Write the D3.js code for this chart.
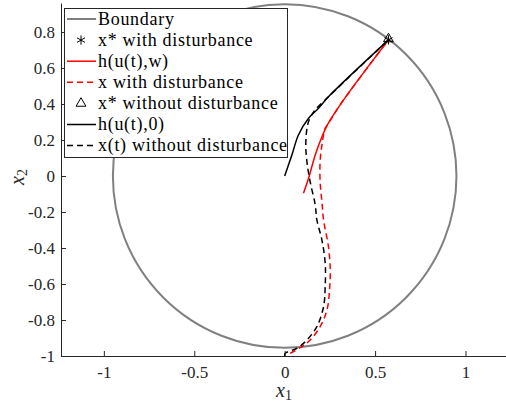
<!DOCTYPE html>
<meta charset="utf-8">
<body style="margin:0;background:#fff">
<script src="https://d3js.org/d3.v7.min.js"></script>
<script>
// equilibrium point (same for both cases)
var xStar = [0.574, 0.756];
var boundaryRadius = 0.95;

// h(u(t),w)
var hw_x = [0.104, 0.132, 0.169, 0.205, 0.234, 0.317, 0.574];
var hw_y = [-0.096, -0.013, 0.117, 0.215, 0.280, 0.410, 0.756];

// x with disturbance
var xw_x = [0.030, 0.095, 0.141, 0.196, 0.234, 0.248, 0.252, 0.242, 0.215, 0.206, 0.196, 0.196, 0.206, 0.224, 0.234, 0.317, 0.574];
var xw_y = [-0.985, -0.948, -0.911, -0.837, -0.744, -0.633, -0.522, -0.393, -0.244, -0.143, -0.032, 0.079, 0.172, 0.265, 0.280, 0.410, 0.756];

// h(u(t),0)
var h0_x = [0.000, 0.040, 0.076, 0.132, 0.187, 0.242, 0.574];
var h0_y = [0.000, 0.117, 0.228, 0.321, 0.376, 0.440, 0.756];

// x(t) without disturbance
var x0_x = [0.000, 0.003, 0.068, 0.123, 0.178, 0.215, 0.224, 0.224, 0.206, 0.178, 0.169, 0.141, 0.123, 0.117, 0.132, 0.169, 0.242, 0.574];
var x0_y = [-1.000, -0.985, -0.957, -0.911, -0.837, -0.726, -0.615, -0.485, -0.356, -0.244, -0.161, -0.032, 0.079, 0.191, 0.302, 0.367, 0.440, 0.756];

var xTicks = [-1, -0.5, 0, 0.5, 1];
var yTicks = [-1, -0.8, -0.6, -0.4, -0.2, 0, 0.2, 0.4, 0.6, 0.8];

var legendLabels = ["Boundary", "x* with disturbance", "h(u(t),w)", "x with disturbance",
                    "x* without disturbance", "h(u(t),0)", "x(t) without disturbance"];

var width = 506, height = 404;
var plot = {left: 61, right: 506, top: 3, bottom: 356};
var serif = "Liberation Serif";
var ink = "#262626";

var x = d3.scaleLinear().domain([-1.237, 1.224]).range([plot.left, plot.right]);
var y = d3.scaleLinear().domain([-1, 0.961]).range([plot.bottom, plot.top]);

var svg = d3.select("body").append("svg")
    .attr("width", width)
    .attr("height", height);

function zip(xs, ys) { return xs.map(function(v, i) { return [v, ys[i]]; }); }

var line = d3.line()
    .x(function(d) { return x(d[0]); })
    .y(function(d) { return y(d[1]); })
    .curve(d3.curveCatmullRom.alpha(0.5));

var g = svg.append("g");

// boundary
g.append("circle")
    .attr("cx", x(0))
    .attr("cy", y(0))
    .attr("r", x(boundaryRadius) - x(0))
    .attr("fill", "none")
    .attr("stroke", "#808080")
    .attr("stroke-width", 2);

var star = d3.symbol().type(d3.symbolAsterisk).size(60);
var tri = d3.symbol().type(d3.symbolTriangle).size(42);

g.append("path")
    .attr("d", star())
    .attr("transform", "translate(" + x(xStar[0]) + "," + y(xStar[1]) + ")")
    .attr("stroke", "#000").attr("stroke-width", 1).attr("fill", "none");

[{pts: zip(hw_x, hw_y), dash: null}, {pts: zip(xw_x, xw_y), dash: "6,4"}].forEach(function(s) {
  g.append("path")
      .attr("d", line(s.pts))
      .attr("fill", "none")
      .attr("stroke", "#ff0000")
      .attr("stroke-width", 1.5)
      .attr("stroke-dasharray", s.dash);
});

g.append("path")
    .attr("d", tri())
    .attr("transform", "translate(" + x(xStar[0]) + "," + (y(xStar[1]) - 1) + ")")
    .attr("stroke", "#000").attr("stroke-width", 1).attr("fill", "none");

[{pts: zip(h0_x, h0_y), dash: null}, {pts: zip(x0_x, x0_y), dash: "6,4"}].forEach(function(s) {
  g.append("path")
      .attr("d", line(s.pts))
      .attr("fill", "none")
      .attr("stroke", "#000")
      .attr("stroke-width", 1.5)
      .attr("stroke-dasharray", s.dash);
});

// axes (ticks inward, no box)
var fmt = function(d) { return String(d); };
var xAxis = d3.axisBottom(x).tickValues(xTicks).tickSizeInner(-5).tickSizeOuter(0).tickPadding(10).tickFormat(fmt);
var yAxis = d3.axisLeft(y).tickValues(yTicks).tickSizeInner(-5).tickSizeOuter(0).tickPadding(6).tickFormat(fmt);

var gx = svg.append("g").attr("transform", "translate(0," + plot.bottom + ")").call(xAxis);
var gy = svg.append("g").attr("transform", "translate(" + plot.left + ",0)").call(yAxis);
[gx, gy].forEach(function(a) {
  a.attr("font-family", serif).attr("font-size", 17);
  a.selectAll("path, line").attr("stroke", ink);
  a.selectAll("text").attr("fill", ink).attr("font-family", serif).style("font-family", serif).style("font-size", "17px");
});

// axis labels
var xl = svg.append("text")
    .attr("x", 284).attr("y", 397)
    .attr("text-anchor", "middle")
    .attr("fill", ink)
    .style("font-family", serif)
    .style("font-size", "20px");
xl.append("tspan").style("font-style", "italic").text("x");
xl.append("tspan").attr("dy", 3).style("font-size", "14px").text("1");

var yl = svg.append("text")
    .attr("transform", "translate(24,177) rotate(-90)")
    .attr("text-anchor", "middle")
    .attr("fill", ink)
    .style("font-family", serif)
    .style("font-size", "20px");
yl.append("tspan").style("font-style", "italic").text("x");
yl.append("tspan").attr("dy", 3).style("font-size", "14px").text("2");

// legend
var lg = svg.append("g");
lg.append("rect")
    .attr("x", 64.5).attr("y", 8.5)
    .attr("width", 223).attr("height", 149)
    .attr("fill", "#fff")
    .attr("stroke", ink)
    .attr("stroke-width", 1);

var legendKeys = [
  {type: "line", color: "#808080", dash: null, w: 2},
  {type: "star"},
  {type: "line", color: "#ff0000", dash: null, w: 1.5},
  {type: "line", color: "#ff0000", dash: "6,4", w: 1.5},
  {type: "tri"},
  {type: "line", color: "#000", dash: null, w: 1.5},
  {type: "line", color: "#000", dash: "6,4", w: 1.5}
];

legendLabels.forEach(function(lab, i) {
  var cy = 19 + i * 21.1;
  var k = legendKeys[i];
  if (k.type === "line") {
    lg.append("line")
        .attr("x1", 67).attr("x2", 96)
        .attr("y1", cy).attr("y2", cy)
        .attr("stroke", k.color)
        .attr("stroke-width", k.w)
        .attr("stroke-dasharray", k.dash);
  } else {
    lg.append("path")
        .attr("d", k.type === "star" ? star() : tri())
        .attr("transform", "translate(81," + cy + ")")
        .attr("stroke", "#000").attr("stroke-width", 1).attr("fill", "none");
  }
  lg.append("text")
      .attr("x", 98)
      .attr("y", cy + 5.5)
      .attr("fill", "#000")
      .style("font-family", serif)
      .style("font-size", "18px")
      .style("letter-spacing", "0.7px")
      .text(lab);
});
</script>
</body>
